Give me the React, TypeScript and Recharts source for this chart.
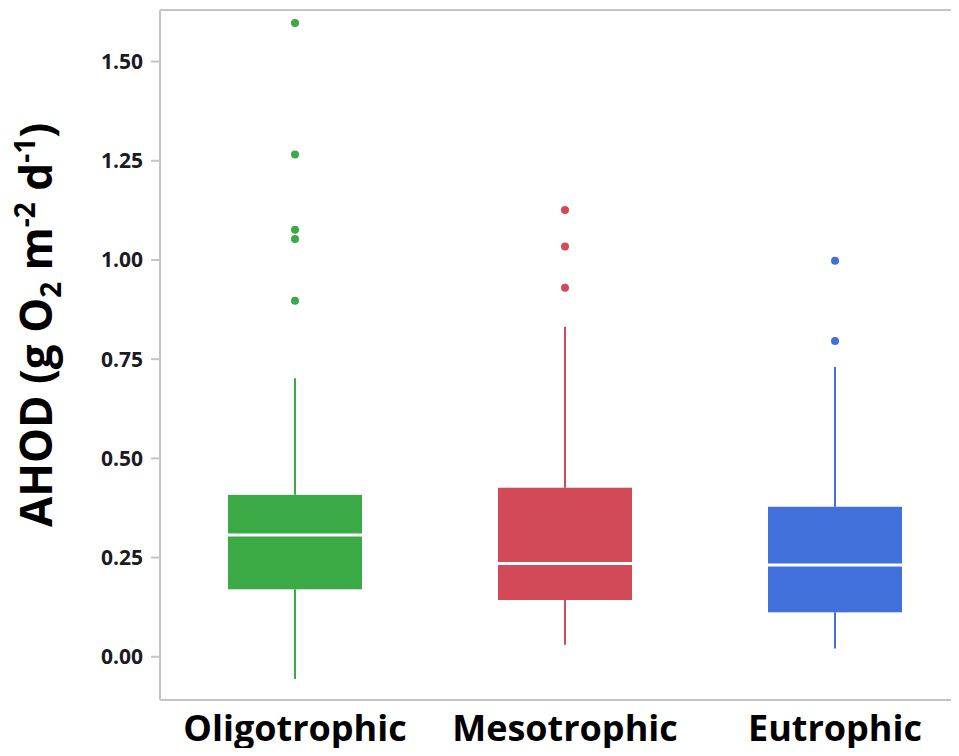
import React from "react";
import {
  ComposedChart,
  Bar,
  Scatter,
  XAxis,
  YAxis,
  ReferenceLine,
} from "recharts";

const categories = ["Oligotrophic", "Mesotrophic", "Eutrophic"];
const colors = ["#3BAA46", "#D24958", "#4170DA"];

// five-number summaries per trophic state
const whiskerLow = [-0.056, 0.03, 0.021];
const q1 = [0.17, 0.143, 0.112];
const median = [0.307, 0.235, 0.231];
const q3 = [0.408, 0.426, 0.378];
const whiskerHigh = [0.702, 0.832, 0.73];

const oligoOutliers = [1.597, 1.266, 1.076, 1.053, 0.897];
const mesoOutliers = [1.126, 1.034, 0.93];
const eutroOutliers = [0.998, 0.796];

const yTicks = [0, 0.25, 0.5, 0.75, 1.0, 1.25, 1.5];
const Y_MIN = -0.109;
const Y_MAX = 1.63;

const boxes = categories.map((name, i) => ({
  name,
  color: colors[i],
  low: whiskerLow[i],
  q1: q1[i],
  median: median[i],
  q3: q3[i],
  high: whiskerHigh[i],
}));

const toPoints = (name: string, values: number[]) =>
  values.map((value) => ({ name, value }));

const AXIS_GREY = "#C4C4C4";
const FONT = "'Open Sans', 'Noto Sans', sans-serif";

const BoxShape = (props: any) => {
  const { x, y, width, height, payload } = props;
  const top = Math.min(y, y + height);
  const h = Math.abs(height);
  const pxPerUnit = h / (payload.q3 - payload.q1);
  const cx = x + width / 2;
  const yHigh = top - (payload.high - payload.q3) * pxPerUnit;
  const yLow = top + h + (payload.q1 - payload.low) * pxPerUnit;
  const yMed = top + (payload.q3 - payload.median) * pxPerUnit;
  return (
    <g>
      <line x1={cx} x2={cx} y1={yHigh} y2={top} stroke={payload.color} strokeWidth={2} />
      <line x1={cx} x2={cx} y1={top + h} y2={yLow} stroke={payload.color} strokeWidth={2} />
      <rect x={x} y={top} width={width} height={h} fill={payload.color} />
      <line x1={x} x2={x + width} y1={yMed} y2={yMed} stroke="#ffffff" strokeWidth={3} />
    </g>
  );
};

const Dot = (color: string) => (props: any) =>
  <circle cx={props.cx} cy={props.cy} r={4} fill={color} />;

const YTitle = (props: any) => {
  const vb = props.viewBox;
  const x = vb.x + 44;
  const y = vb.y + vb.height / 2 - 30;
  return (
    <text
      x={x}
      y={y}
      transform={`rotate(-90, ${x}, ${y})`}
      textAnchor="middle"
      fontFamily={FONT}
      fontWeight={700}
      fontSize={44}
      fill="#000"
    >
      AHOD (g O
      <tspan fontSize={28} dy={9}>2</tspan>
      <tspan dy={-9}> m</tspan>
      <tspan fontSize={28} dy={-17}>-2</tspan>
      <tspan dy={17}> d</tspan>
      <tspan fontSize={28} dy={-17}>-1</tspan>
      <tspan dy={17}>)</tspan>
    </text>
  );
};

export default function App() {
  return (
    <div style={{ width: 951, height: 740, overflow: "hidden" }}>
      <ComposedChart
        width={962}
        height={740}
        data={boxes}
        margin={{ top: 2, right: 0, bottom: 0, left: 0 }}
      >
        <XAxis
          dataKey="name"
          type="category"
          allowDuplicatedCategory={false}
          height={48}
          axisLine={{ stroke: AXIS_GREY, strokeWidth: 2 }}
          tickLine={false}
          tickSize={0}
          tickMargin={15}
          tick={{ fontFamily: FONT, fontWeight: 700, fontSize: 36, fill: "#000" }}
        />
        <YAxis
          type="number"
          width={152}
          domain={[Y_MIN, Y_MAX]}
          ticks={yTicks}
          allowDataOverflow
          tickFormatter={(v: number) => v.toFixed(2)}
          axisLine={{ stroke: AXIS_GREY, strokeWidth: 2 }}
          tickLine={{ stroke: AXIS_GREY, strokeWidth: 2 }}
          tickSize={9}
          tickMargin={8}
          tick={{ fontFamily: FONT, fontWeight: 700, fontSize: 21, fill: "#1b1b22" }}
          label={<YTitle />}
        />
        <ReferenceLine y={Y_MAX} stroke={AXIS_GREY} strokeWidth={2} />
        <Bar
          dataKey={(d: any) => [d.q1, d.q3]}
          barSize={134}
          shape={<BoxShape />}
          isAnimationActive={false}
        />
        <Scatter
          data={toPoints(categories[0], oligoOutliers)}
          dataKey="value"
          shape={Dot(colors[0])}
          isAnimationActive={false}
        />
        <Scatter
          data={toPoints(categories[1], mesoOutliers)}
          dataKey="value"
          shape={Dot(colors[1])}
          isAnimationActive={false}
        />
        <Scatter
          data={toPoints(categories[2], eutroOutliers)}
          dataKey="value"
          shape={Dot(colors[2])}
          isAnimationActive={false}
        />
      </ComposedChart>
    </div>
  );
}
